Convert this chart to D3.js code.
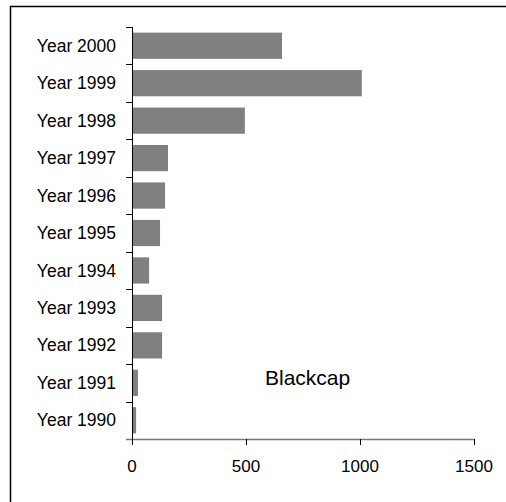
<!DOCTYPE html>
<html>
<head>
<meta charset="utf-8">
<script src="https://cdn.jsdelivr.net/npm/d3@7/dist/d3.min.js"></script>
<style>
  body { margin: 0; background: #fff; }
  text { font-family: "Liberation Sans", Arial, sans-serif; fill: #000; }
</style>
</head>
<body>
<div id="chart"></div>
<script>
// data
var years = ["Year 2000", "Year 1999", "Year 1998", "Year 1997", "Year 1996", "Year 1995",
             "Year 1994", "Year 1993", "Year 1992", "Year 1991", "Year 1990"];
var counts = [658, 1008, 495, 158, 145, 123, 75, 132, 132, 26, 18];
var xTicks = [0, 500, 1000, 1500];
var title = "Blackcap";

var width = 506, height = 502;
var plotLeft = 132, plotRight = 474, plotTop = 27, plotBottom = 439;

var svg = d3.select("#chart").append("svg")
  .attr("width", width)
  .attr("height", height);

// outer frame (runs off the page on the right/bottom)
svg.append("rect")
  .attr("x", 10.5).attr("y", 6.5)
  .attr("width", 520).attr("height", 520)
  .attr("fill", "none").attr("stroke", "#000").attr("stroke-width", 1.5);

var x = d3.scaleLinear().domain([0, 1500]).range([plotLeft, plotRight]);
var y = d3.scaleBand().domain(years).range([plotTop, plotBottom])
  .paddingInner(0.3).paddingOuter(0.15);

var data = years.map(function(d, i) { return {year: d, n: counts[i]}; });

svg.selectAll("rect.bar").data(data).enter().append("rect")
  .attr("class", "bar")
  .attr("x", x(0))
  .attr("y", function(d) { return y(d.year); })
  .attr("width", function(d) { return x(d.n) - x(0); })
  .attr("height", y.bandwidth())
  .attr("fill", "#808080");

// y axis: line + ticks on band boundaries
var off = y.step() * 0.15;
svg.append("line")
  .attr("x1", plotLeft + 0.5).attr("x2", plotLeft + 0.5)
  .attr("y1", plotTop).attr("y2", plotBottom)
  .attr("stroke", "#000");
var bounds = years.map(function(d) { return y(d) - off; });
svg.selectAll("line.ytick").data(bounds).enter().append("line")
  .attr("class", "ytick")
  .attr("x1", plotLeft - 6).attr("x2", plotLeft)
  .attr("y1", function(d) { return Math.round(d) + 0.5; })
  .attr("y2", function(d) { return Math.round(d) + 0.5; })
  .attr("stroke", "#000");

svg.selectAll("text.ylab").data(years).enter().append("text")
  .attr("class", "ylab")
  .attr("x", 116)
  .attr("y", function(d) { return y(d) + y.bandwidth() / 2; })
  .attr("dy", "0.35em")
  .attr("text-anchor", "end")
  .style("font-size", "17.5px")
  .text(function(d) { return d; });

// x axis
svg.append("line")
  .attr("x1", plotLeft - 6).attr("x2", plotRight + 0.5)
  .attr("y1", plotBottom + 0.5).attr("y2", plotBottom + 0.5)
  .attr("stroke", "#777").attr("stroke-width", 1.5);
svg.selectAll("line.xtick").data(xTicks).enter().append("line")
  .attr("class", "xtick")
  .attr("x1", function(d) { return Math.round(x(d)) + 0.5; })
  .attr("x2", function(d) { return Math.round(x(d)) + 0.5; })
  .attr("y1", plotBottom).attr("y2", plotBottom + 6)
  .attr("stroke", "#000");
svg.selectAll("text.xlab").data(xTicks).enter().append("text")
  .attr("class", "xlab")
  .attr("x", function(d) { return x(d); })
  .attr("y", 472)
  .attr("text-anchor", "middle")
  .style("font-size", "17px")
  .text(function(d) { return d; });

svg.append("text")
  .attr("x", 265).attr("y", 385)
  .style("font-size", "21px")
  .text(title);
</script>
</body>
</html>
